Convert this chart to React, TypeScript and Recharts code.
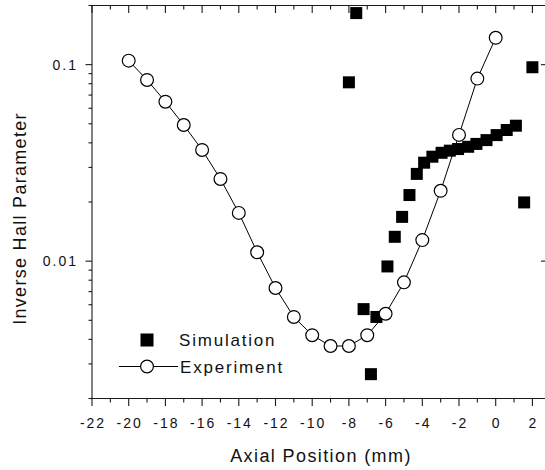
import React from 'react';
import { ScatterChart, Scatter, XAxis, YAxis, Customized } from 'recharts';

// ---- data ----
const experimentX = [-20, -19, -18, -17, -16, -15, -14, -13, -12, -11, -10, -9, -8, -7, -6, -5, -4, -3, -2, -1, 0];
const experimentY = [
  0.1048, 0.0836, 0.0648, 0.0493, 0.0368, 0.0262, 0.0176, 0.0111, 0.0073, 0.0052, 0.0042,
  0.0037, 0.0037, 0.0042, 0.0054, 0.0078, 0.0128, 0.0228, 0.0439, 0.0849, 0.137,
];
const simulationX = [
  -8.0, -7.6, -7.2, -6.8, -6.5, -5.9, -5.5, -5.1, -4.7, -4.3, -3.9, -3.45, -2.95, -2.5, -2.05,
  -1.5, -1.05, -0.5, 0.05, 0.6, 1.1, 1.55, 2.0,
];
const simulationY = [
  0.0813, 0.183, 0.0057, 0.00266, 0.0052, 0.0094, 0.0133, 0.0168, 0.0217, 0.0278, 0.0317, 0.034,
  0.0356, 0.0365, 0.0372, 0.0382, 0.0395, 0.0413, 0.0438, 0.0465, 0.0489, 0.0199, 0.097,
];

const xTicks = [-22, -21, -20, -19, -18, -17, -16, -15, -14, -13, -12, -11, -10, -9, -8, -7, -6, -5, -4, -3, -2, -1, 0, 1, 2];
const xMajorTicks = [-22, -20, -18, -16, -14, -12, -10, -8, -6, -4, -2, 0, 2];
const yTicks = [
  0.002, 0.003, 0.004, 0.005, 0.006, 0.007, 0.008, 0.009,
  0.01, 0.02, 0.03, 0.04, 0.05, 0.06, 0.07, 0.08, 0.09,
  0.1, 0.2,
];
const yMajorTicks = [0.01, 0.1];
const yMajorLabels = ['0.01', '0.1'];

const xTitle = 'Axial Position (mm)';
const yTitle = 'Inverse Hall Parameter';
const seriesNames = ['Simulation', 'Experiment'];

const experimentData = experimentX.map((x, i) => ({ x, y: experimentY[i] }));
const simulationData = simulationX.map((x, i) => ({ x, y: simulationY[i] }));

// ---- layout & styles ----
const AXIS = '#1a1a1a';
const FONT = '"Liberation Sans", Arial, Helvetica, sans-serif';
const X_DOMAIN: [number, number] = [-22, 2.85];
const Y_DOMAIN: [number, number] = [0.002, 0.2];
const CHART_W = 560;
const CHART_H = 470;
const MARGIN = { top: 5.5, right: 12, bottom: 0, left: 0 };
const Y_AXIS_W = 92;
const X_AXIS_H = 71.5;
const PLOT_TOP = MARGIN.top;
const PLOT_LEFT = MARGIN.left + Y_AXIS_W;
const PLOT_RIGHT = CHART_W - MARGIN.right;
const PLOT_BOTTOM = CHART_H - MARGIN.bottom - X_AXIS_H;

const isXMajor = (v: number) => xMajorTicks.some((m) => Math.abs(m - v) < 1e-9);
const yMajorIndex = (v: number) => yMajorTicks.findIndex((m) => Math.abs(m - v) < 1e-12);

// bottom tick (also mirrors an inward tick on the top frame edge)
const BottomTick = (p: any) => {
  const { x, y, payload } = p;
  const v = payload.value;
  const major = isXMajor(v);
  const len = major ? 7.5 : 4;
  return (
    <g>
      <line x1={x} x2={x} y1={y} y2={y + len} stroke={AXIS} strokeWidth={1.1} />
      <line x1={x} x2={x} y1={PLOT_TOP} y2={PLOT_TOP + len} stroke={AXIS} strokeWidth={1.1} />
      {major && (
        <text x={x + 1} y={y + 29.7} textAnchor="middle" fontSize={14} letterSpacing={2} fill="#111" fontFamily={FONT}>
          {String(v)}
        </text>
      )}
    </g>
  );
};

// left tick (also mirrors an inward tick on the right frame edge)
const LeftTick = (p: any) => {
  const { x, y, payload } = p;
  const idx = yMajorIndex(payload.value);
  const major = idx >= 0;
  return (
    <g>
      <line x1={x} x2={x - (major ? 6.5 : 3.5)} y1={y} y2={y} stroke={AXIS} strokeWidth={1.1} />
      <line x1={PLOT_RIGHT} x2={PLOT_RIGHT - (major ? 7 : 3)} y1={y} y2={y} stroke={AXIS} strokeWidth={1.1} />
      {major && (
        <text x={x - 14} y={y + 5} textAnchor="end" fontSize={14} letterSpacing={2} fill="#111" fontFamily={FONT}>
          {yMajorLabels[idx]}
        </text>
      )}
    </g>
  );
};

const SquareShape = (p: any) => {
  const { cx, cy } = p;
  if (cx == null || cy == null) return <g />;
  return <rect x={cx - 6} y={cy - 6} width={12} height={12} fill="#000" />;
};

const CircleShape = (p: any) => {
  const { cx, cy } = p;
  if (cx == null || cy == null) return <g />;
  return <circle cx={cx} cy={cy} r={6.4} fill="#fff" stroke="#000" strokeWidth={1.2} />;
};

const Overlay = () => (
  <g fontFamily={FONT} fill="#111">
    {/* top and right frame edges */}
    <line x1={PLOT_LEFT} x2={PLOT_RIGHT} y1={PLOT_TOP} y2={PLOT_TOP} stroke={AXIS} strokeWidth={1.2} />
    <line x1={PLOT_RIGHT} x2={PLOT_RIGHT} y1={PLOT_TOP} y2={PLOT_BOTTOM} stroke={AXIS} strokeWidth={1.2} />
    <text x={321} y={462} textAnchor="middle" fontSize={18} letterSpacing={1.4}>
      {xTitle}
    </text>
    <text transform="translate(26, 218.5) rotate(-90)" x={0} y={0} textAnchor="middle" fontSize={18} letterSpacing={1.3}>
      {yTitle}
    </text>
    {/* legend */}
    <rect x={140.5} y={333.5} width={13} height={13} fill="#000" />
    <text x={179} y={345.5} fontSize={17} letterSpacing={1.8}>
      {seriesNames[0]}
    </text>
    <line x1={119} x2={178} y1={366.5} y2={366.5} stroke="#000" strokeWidth={1} />
    <circle cx={147} cy={366.5} r={6.4} fill="#fff" stroke="#000" strokeWidth={1.2} />
    <text x={180} y={372.5} fontSize={17} letterSpacing={1.8}>
      {seriesNames[1]}
    </text>
  </g>
);

export default function App() {
  return (
    <div
      style={{
        position: 'absolute',
        left: 0,
        top: 0,
        width: 545,
        height: 470,
        overflow: 'hidden',
        background: '#fff',
      }}
    >
      <ScatterChart width={CHART_W} height={CHART_H} margin={MARGIN}>
        <XAxis
          xAxisId="b"
          dataKey="x"
          type="number"
          orientation="bottom"
          domain={X_DOMAIN}
          allowDataOverflow
          ticks={xTicks}
          interval={0}
          height={X_AXIS_H}
          tickSize={0}
          tickMargin={0}
          tickLine={false}
          tick={(p: any) => <BottomTick {...p} />}
          axisLine={{ stroke: AXIS, strokeWidth: 1.1 }}
        />
        <YAxis
          yAxisId="l"
          dataKey="y"
          type="number"
          scale="log"
          orientation="left"
          domain={Y_DOMAIN}
          allowDataOverflow
          ticks={yTicks}
          interval={0}
          width={Y_AXIS_W}
          tickSize={0}
          tickMargin={0}
          tickLine={false}
          tick={(p: any) => <LeftTick {...p} />}
          axisLine={{ stroke: AXIS, strokeWidth: 1.1 }}
        />
        <Scatter
          name={seriesNames[0]}
          data={simulationData}
          xAxisId="b"
          yAxisId="l"
          shape={SquareShape}
          isAnimationActive={false}
        />
        <Scatter
          name={seriesNames[1]}
          data={experimentData}
          xAxisId="b"
          yAxisId="l"
          line={{ stroke: '#000', strokeWidth: 1 }}
          lineType="joint"
          shape={CircleShape}
          isAnimationActive={false}
        />
        <Customized component={<Overlay />} />
      </ScatterChart>
    </div>
  );
}
